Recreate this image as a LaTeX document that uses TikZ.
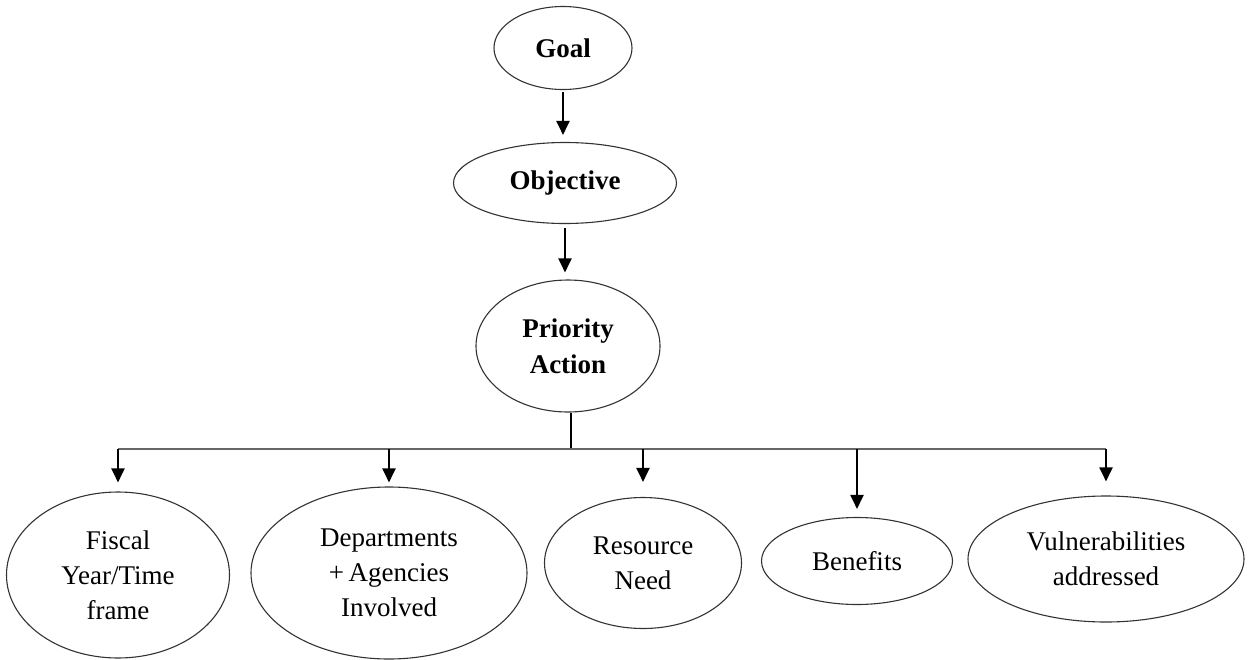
\documentclass[tikz,border=0pt]{standalone}
\usepackage{fontspec}
\setmainfont{Liberation Serif}
\usetikzlibrary{shapes.geometric,arrows.meta}
\begin{document}
\begin{tikzpicture}[x=1pt,y=-1pt,
  el/.style={draw=black!80, line width=1.1pt, ellipse, inner sep=0pt, align=center,
             font=\fontsize{27}{35}\selectfont},
  topel/.style={el, font=\fontsize{27}{36}\selectfont\bfseries},
  arr/.style={line width=2pt, draw=black, -{Triangle[width=13pt,length=14pt]}},
  busline/.style={line width=2pt, draw=black!60},
  stem/.style={line width=2pt, draw=black}]
\useasboundingbox (0,0) rectangle (1248,659);
\fill[white] (0,0) rectangle (1248,659);

\node[topel, minimum width=138pt, minimum height=83pt] (goal) at (563,48) {Goal};
\node[topel, minimum width=223pt, minimum height=81pt] (obj) at (565,183) {Objective};
\node[topel, minimum width=184pt, minimum height=132pt] (pa) at (568,346) {Priority\\Action};

\node[el, minimum width=223pt, minimum height=166pt] (fiscal) at (118,575) {Fiscal\\Year/Time\\frame};
\node[el, minimum width=276pt, minimum height=172pt] (dept) at (389,573) {Departments\\+\,Agencies\\Involved};
\node[el, minimum width=197pt, minimum height=131pt] (res) at (643,563) {Resource\\Need};
\node[el, minimum width=191pt, minimum height=87pt] (ben) at (857,561) {Benefits};
\node[el, minimum width=276pt, minimum height=126pt] (vul) at (1106,559) {Vulnerabilities\\addressed};

\draw[arr, shorten <=2pt, shorten >=7pt] (goal.south) -- (goal.south |- obj.north);
\draw[arr, shorten <=4pt, shorten >=7pt] (obj.south) -- (obj.south |- pa.north);

\coordinate (busc) at (571,449);
\draw[stem] (pa.south -| busc) -- (busc);
\draw[busline] (fiscal.north |- busc) -- (vul.north |- busc);

\draw[arr, shorten >=9pt] (fiscal.north |- busc) -- (fiscal.north);
\draw[arr, shorten >=4pt] (dept.north |- busc) -- (dept.north);
\draw[arr, shorten >=15pt] (res.north |- busc) -- (res.north);
\draw[arr, shorten >=8pt] (ben.north |- busc) -- (ben.north);
\draw[arr, shorten >=14pt] (vul.north |- busc) -- (vul.north);
\end{tikzpicture}
\end{document}
